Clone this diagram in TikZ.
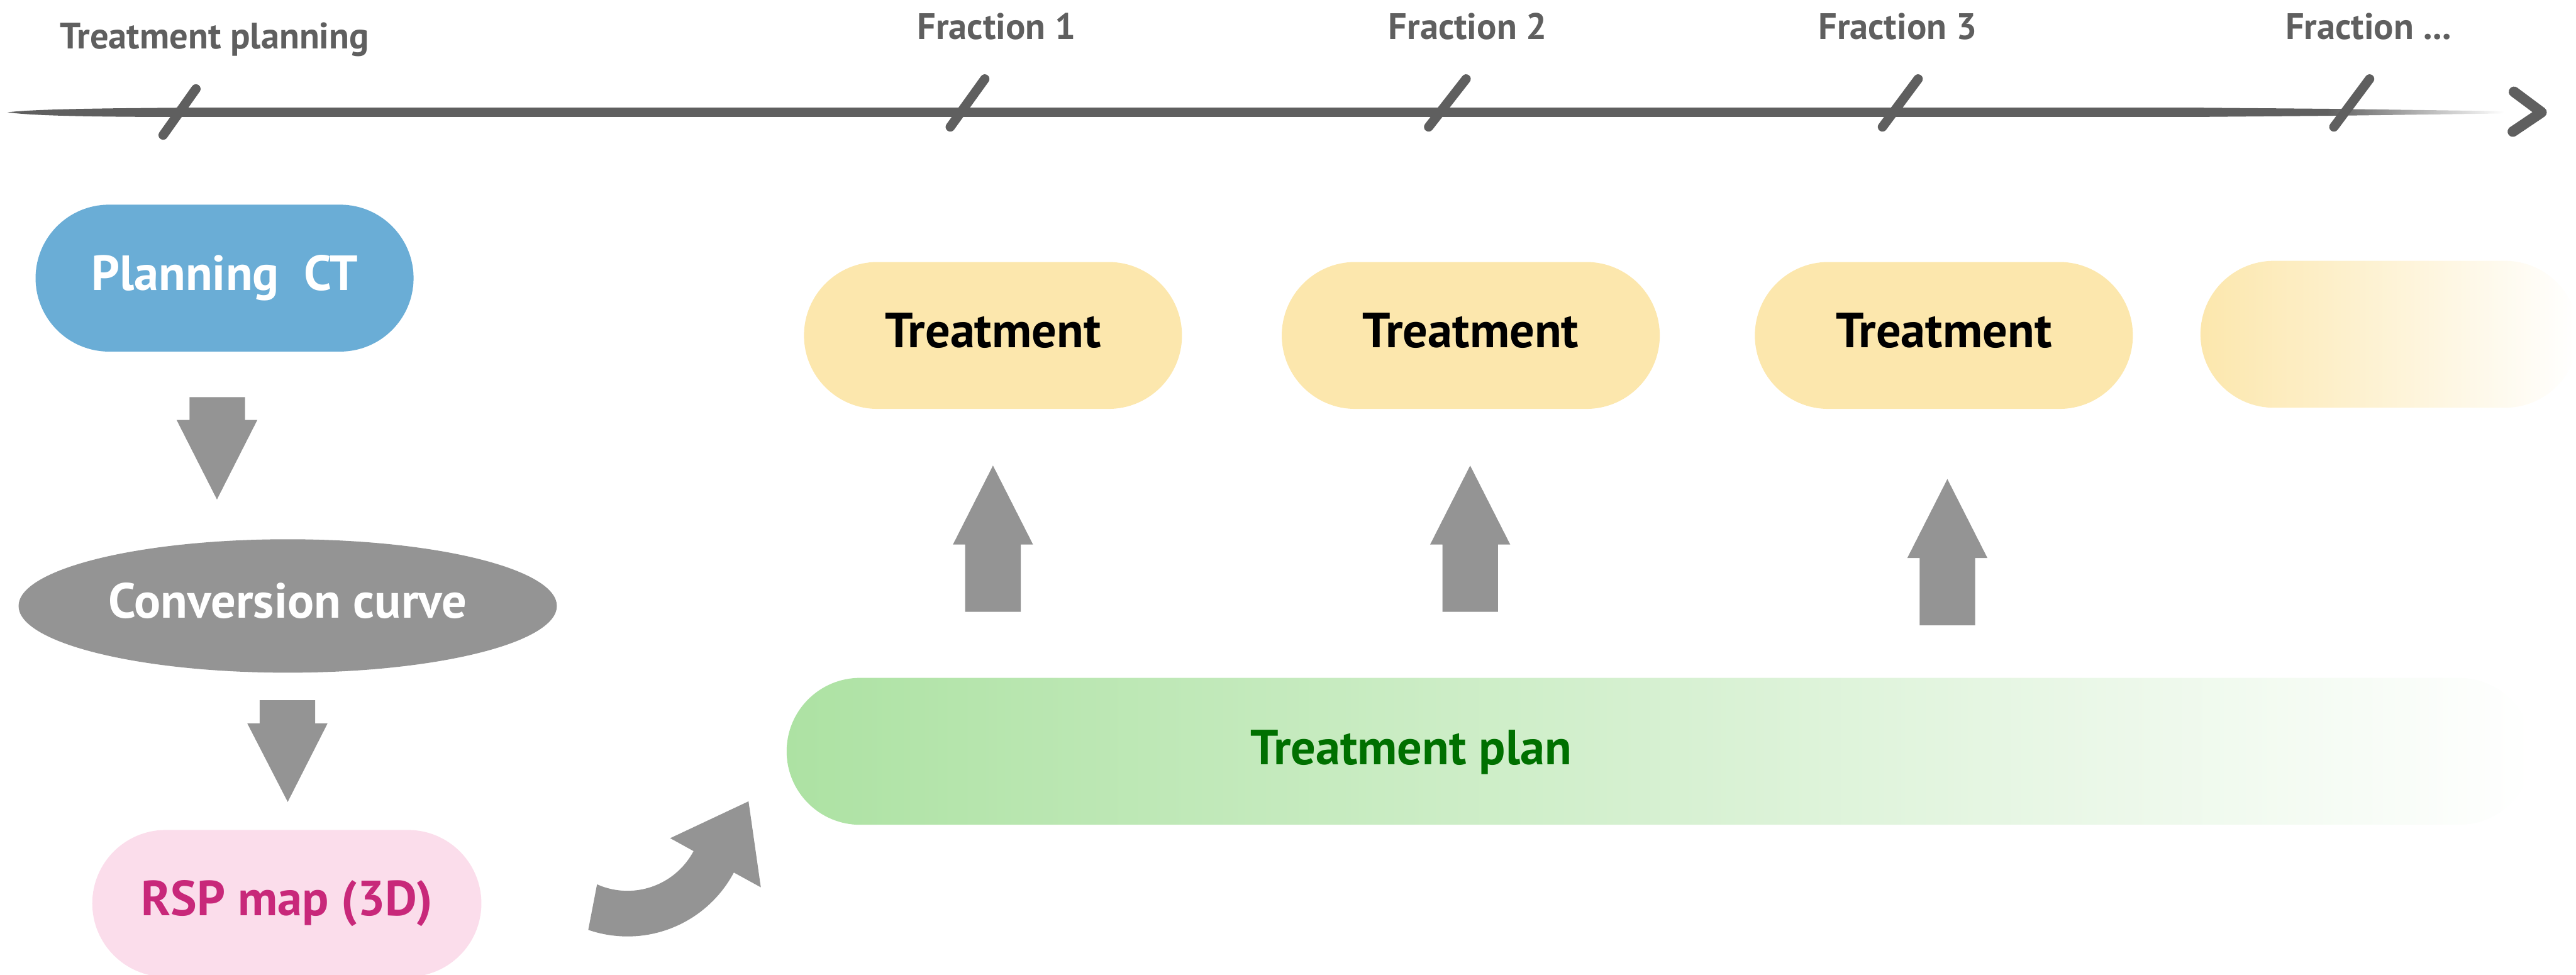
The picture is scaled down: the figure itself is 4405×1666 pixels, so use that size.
\documentclass[tikz,border=0pt]{standalone}
\usepackage{fontspec}
\setmainfont{PT Sans}
\usetikzlibrary{shapes.geometric}
\definecolor{tlgray}{RGB}{95,95,95}
\definecolor{argray}{RGB}{148,148,148}
\definecolor{ctblue}{RGB}{106,173,214}
\definecolor{rsppink}{RGB}{251,221,235}
\definecolor{rsptext}{RGB}{200,40,122}
\definecolor{tyellow}{RGB}{252,231,173}
\definecolor{pgreen}{RGB}{173,226,163}
\definecolor{ptext}{RGB}{0,112,0}
\begin{document}
\begin{tikzpicture}[x=0.01cm,y=-0.01cm,
  lbl/.style={font=\fontsize{17.9pt}{20pt}\selectfont\bfseries, text=tlgray, inner sep=0pt, anchor=base},
  pill/.style={rectangle, rounded corners=1.255cm, minimum width=6.46cm, minimum height=2.51cm,
    inner sep=0pt, font=\fontsize{24pt}{28pt}\selectfont\bfseries, text height=16.8pt, text depth=4.8pt},
  treat/.style={pill, fill=tyellow, text=black},
  tickmark/.style={draw=tlgray, line width=0.16cm, line cap=round},
  blockarrow/.style={fill=argray}]
\useasboundingbox (0,0) rectangle (4405,1666);

% ---------- timeline ----------
\fill[tlgray] (13,192) .. controls (60,186) and (200,185) .. (320,184) -- (3750,184)
  -- (3980,186) -- (3980,198) -- (3750,200) -- (320,200) .. controls (200,200) and (60,199) .. (13,192) -- cycle;
\shade[left color=tlgray, right color=white] (3980,186) -- (4283,190) -- (4283,194) -- (3980,198) -- cycle;
\draw[tlgray, line width=0.18cm, line join=round, line cap=round] (4299,157) -- (4346,192) -- (4297,225);
\foreach \bx/\by/\tx/\ty in {279/231/335/152, 1625/217/1684/135, 2443/217/2507/135, 3219/217/3280/135, 3991/217/4052/135}
  \draw[tickmark] (\bx,\by) -- (\tx,\ty);

\node[lbl, anchor=base west] (tplan) at (102,83) {Treatment planning};
\node[lbl] (f1) at (1704,67) {Fraction 1};
\node[lbl] (f2) at (2510,67) {Fraction 2};
\node[lbl] (f3) at (3245,67) {Fraction 3};
\node[lbl] (fn) at (4050,67) {Fraction ...};

% ---------- left column ----------
\node[pill, fill=ctblue, text=white] (pct) at (384,475.5) {Planning\ \ CT};
\node[ellipse, fill=argray, minimum width=9.2cm, minimum height=2.28cm, inner sep=0pt,
  font=\fontsize{24pt}{28pt}\selectfont\bfseries, text=white, text height=16.8pt, text depth=4.8pt] (conv) at (492,1036) {Conversion curve};
\node[pill, minimum width=6.65cm, fill=rsppink, text=rsptext] (rsp) at (490.5,1544.5) {RSP map (3D)};

\fill[blockarrow] (324,679) -- (419,679) -- (419,718) -- (440,718) -- (371,854) -- (302,718) -- (324,718) -- cycle;
\fill[blockarrow] (444,1197) -- (539,1197) -- (539,1237) -- (560,1237) -- (492,1371) -- (423,1237) -- (444,1237) -- cycle;

% curved arrow
\fill[blockarrow] plot[domain=-109:-28, samples=40] ({1073+206*cos(\x)},{1395-206*sin(\x)})
  -- (1301,1517) -- (1280,1370) -- (1146,1433)
  -- plot[domain=-28:-114, samples=40] ({1073+128*cos(\x)},{1395-128*sin(\x)}) -- cycle;

% ---------- treatments ----------
\node[treat] (t1) at (1698,573.5) {Treatment};
\node[treat] (t2) at (2515,573.5) {Treatment};
\node[treat] (t3) at (3324,573.5) {Treatment};
\node[pill, left color=tyellow, right color=white] (t4) at (4086,571.5) {};

\foreach \c/\t in {1698/796, 2514/796, 3330/819}
  \fill[blockarrow] (\c,\t) -- ({\c+68.5},{\t+135}) -- ({\c+47.5},{\t+135}) -- ({\c+47.5},{\t+250})
    -- ({\c-47.5},{\t+250}) -- ({\c-47.5},{\t+135}) -- ({\c-68.5},{\t+135}) -- cycle;

% ---------- treatment plan ----------
\node[rectangle, rounded corners=1.255cm, minimum width=29.84cm, minimum height=2.51cm, inner sep=0pt,
  left color=pgreen, right color=white] (plan) at (2838,1284.5) {};
\node[font=\fontsize{24pt}{28pt}\selectfont\bfseries, text=ptext, inner sep=0pt, anchor=base] (plantxt) at (2413,1307) {Treatment plan};
\end{tikzpicture}
\end{document}
